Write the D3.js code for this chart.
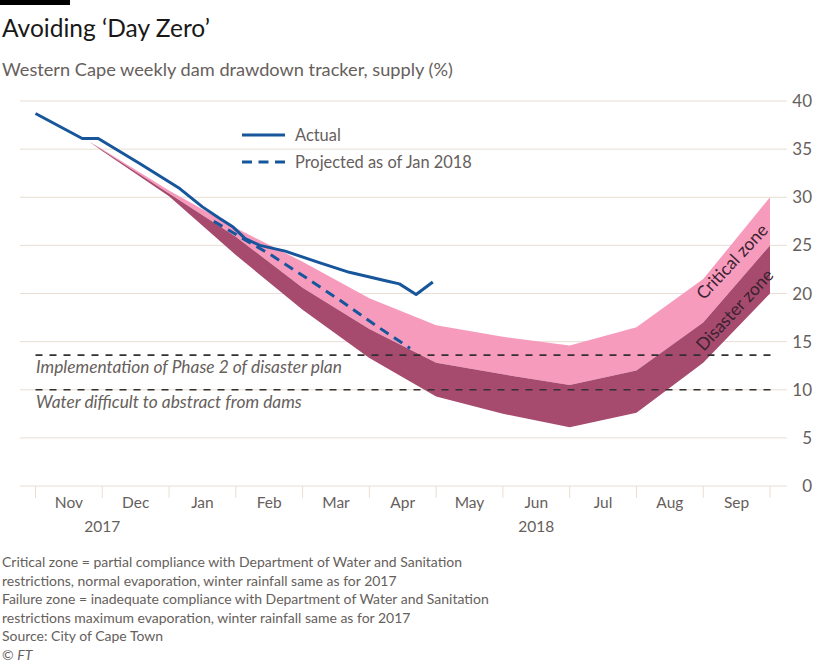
<!DOCTYPE html>
<html>
<head>
<meta charset="utf-8">
<script src="https://cdn.jsdelivr.net/npm/d3@7"></script>
<style>
  html, body { margin: 0; padding: 0; background: #fff; }
  svg { display: block; font-family: Lato, "Noto Sans", sans-serif; }
</style>
</head>
<body>
<svg id="chart" width="820" height="669"></svg>
<script>
// ---------------- data ----------------
const months = ["Nov","Dec","Jan","Feb","Mar","Apr","May","Jun","Jul","Aug","Sep"];
const yearLabels = ["2017","2018"];
const yearAt = [1, 7.5];                 // month-index position of year labels
const yTicks = [0,5,10,15,20,25,30,35,40];

// Actual supply (%), x = month index from 1 Nov 2017
const actualT = [0, 0.7, 0.94, 1.56, 2.16, 2.5, 2.76, 2.96, 3.14, 3.36, 3.74, 4.25, 4.7, 5.26, 5.45, 5.7, 5.95];
const actualV = [38.7, 36.1, 36.1, 33.5, 30.9, 29.0, 27.8, 26.9, 25.7, 25.0, 24.4, 23.2, 22.2, 21.3, 21.0, 19.9, 21.2];

// Projected as of Jan 2018
const projT = [2.67, 3.06, 3.53, 4.06, 4.56, 5.05, 5.61];
const projV = [27.5, 25.9, 24.0, 21.6, 19.3, 16.9, 14.3];

// Zones: critical = between top and mid, disaster = between mid and bottom
const zoneT      = [0.8, 1, 2, 3, 4, 5, 6, 7, 8, 9, 10, 11];
const zoneTop    = [35.8, 35.0, 30.7, 26.8, 23.3, 19.5, 16.7, 15.5, 14.6, 16.5, 21.5, 30];
const zoneMid    = [35.8, 34.9, 30.4, 25.9, 20.6, 16.3, 12.8, 11.6, 10.5, 12.0, 17.0, 25];
const zoneBottom = [35.8, 34.8, 30.1, 24.0, 18.3, 13.3, 9.3, 7.5, 6.1, 7.6, 12.8, 20];

// Reference levels
const refLevels = [13.6, 10];
const refLabels = ["Implementation of Phase 2 of disaster plan", "Water difficult to abstract from dams"];

const title = "Avoiding \u2018Day Zero\u2019";
const subtitle = "Western Cape weekly dam drawdown tracker, supply (%)";
const legendLabels = ["Actual", "Projected as of Jan 2018"];
const zoneLabels = ["Critical zone", "Disaster zone"];
const zoneLabelAt = [[10.43, 23.3], [10.47, 18.3]];
const notes = [
  "Critical zone = partial compliance with Department of Water and Sanitation",
  "restrictions, normal evaporation, winter rainfall same as for 2017",
  "Failure zone = inadequate compliance with Department of Water and Sanitation",
  "restrictions maximum evaporation, winter rainfall same as for 2017",
  "Source: City of Cape Town"
];

// ---------------- styles ----------------
const C = {
  blue: "#17569b", light: "#f79bbd", dark: "#a64a6e",
  grid: "#e8ded5", text: "#66605c", title: "#1a1817", zoneText: "#3a2230", ref: "#33302e"
};

const svg = d3.select("#chart");
const x = d3.scaleLinear().domain([0, 11]).range([35.5, 770]);
const y = d3.scaleLinear().domain([0, 40]).range([486, 101]);

function fit(sel, w) {
  const len = sel.node().getComputedTextLength();
  const fs = parseFloat(sel.attr("font-size"));
  const nfs = fs * w / len;
  sel.attr("font-size", nfs);
  return nfs;
}

svg.append("rect").attr("width", 820).attr("height", 669).attr("fill", "#fff");

// top black bar
svg.append("rect").attr("x", 0).attr("y", 0).attr("width", 70).attr("height", 5).attr("fill", "#000");

// title & subtitle
const tt = svg.append("text").attr("x", 2).attr("y", 37).attr("font-size", 22).attr("fill", C.title).text(title);
fit(tt, 208);
const st = svg.append("text").attr("x", 2).attr("y", 75.5).attr("font-size", 18).attr("fill", C.text).text(subtitle);
fit(st, 451);

// gridlines
svg.append("g").selectAll("line").data(yTicks).join("line")
  .attr("x1", 20).attr("x2", 787)
  .attr("y1", d => y(d)).attr("y2", d => y(d))
  .attr("stroke", C.grid).attr("stroke-width", 1);

// y tick labels (right side)
svg.append("g").selectAll("text").data(yTicks).join("text")
  .attr("x", 812).attr("y", d => y(d) + 6)
  .attr("text-anchor", "end").attr("font-size", 17).attr("fill", C.text)
  .text(d => d);

// x tick marks at month boundaries
svg.append("g").selectAll("line").data(d3.range(months.length + 1)).join("line")
  .attr("x1", d => x(d)).attr("x2", d => x(d))
  .attr("y1", y(0)).attr("y2", y(0) + 12)
  .attr("stroke", C.grid).attr("stroke-width", 1);

// month labels
svg.append("g").selectAll("text").data(months).join("text")
  .attr("x", (d, i) => x(i + 0.5)).attr("y", 508)
  .attr("text-anchor", "middle").attr("font-size", 15.5).attr("fill", C.text)
  .text(d => d);
svg.append("g").selectAll("text").data(yearLabels).join("text")
  .attr("x", (d, i) => x(yearAt[i])).attr("y", 532)
  .attr("text-anchor", "middle").attr("font-size", 15.5).attr("fill", C.text)
  .text(d => d);

// zones
const zone = zoneT.map((t, i) => ({t, top: zoneTop[i], mid: zoneMid[i], bot: zoneBottom[i]}));
svg.append("path").datum(zone)
  .attr("d", d3.area().x(d => x(d.t)).y0(d => y(d.mid)).y1(d => y(d.top)))
  .attr("fill", C.light);
svg.append("path").datum(zone)
  .attr("d", d3.area().x(d => x(d.t)).y0(d => y(d.bot)).y1(d => y(d.mid)))
  .attr("fill", C.dark);

// reference lines
svg.append("g").selectAll("line").data(refLevels).join("line")
  .attr("x1", x(0)).attr("x2", x(11.05))
  .attr("y1", d => y(d)).attr("y2", d => y(d))
  .attr("stroke", C.ref).attr("stroke-width", 1.6).attr("stroke-dasharray", "7,7");
const rl = svg.append("g").selectAll("text").data(refLabels).join("text")
  .attr("x", 36).attr("y", (d, i) => y(refLevels[i]) + 18)
  .attr("font-size", 16).attr("font-style", "italic").attr("fill", C.text)
  .text(d => d);
const rfs = fit(d3.select(rl.nodes()[0]), 306);
d3.select(rl.nodes()[1]).attr("font-size", rfs);

// zone labels
svg.append("g").selectAll("text").data(zoneLabels).join("text")
  .attr("transform", (d, i) => `translate(${x(zoneLabelAt[i][0])},${y(zoneLabelAt[i][1])}) rotate(-47)`)
  .attr("text-anchor", "middle").attr("dy", "0.35em")
  .attr("font-size", 17.5).attr("fill", C.zoneText)
  .text(d => d);

// lines
const line = d3.line().x(d => x(d[0])).y(d => y(d[1]));
svg.append("path").datum(projT.map((t, i) => [t, projV[i]]))
  .attr("d", line).attr("fill", "none").attr("stroke", C.blue)
  .attr("stroke-width", 3).attr("stroke-dasharray", "10,6.5");
svg.append("path").datum(actualT.map((t, i) => [t, actualV[i]]))
  .attr("d", line).attr("fill", "none").attr("stroke", C.blue)
  .attr("stroke-width", 3).attr("stroke-linejoin", "round");

// legend
const lg = svg.append("g");
lg.append("line").attr("x1", 242).attr("x2", 285).attr("y1", 135).attr("y2", 135)
  .attr("stroke", C.blue).attr("stroke-width", 3);
lg.append("line").attr("x1", 242).attr("x2", 285).attr("y1", 162).attr("y2", 162)
  .attr("stroke", C.blue).attr("stroke-width", 3).attr("stroke-dasharray", "10,6.5");
const lt = lg.selectAll("text").data(legendLabels).join("text")
  .attr("x", 295).attr("y", (d, i) => 140.5 + i * 27)
  .attr("font-size", 15.5).attr("fill", C.text).text(d => d);
const lfs = fit(d3.select(lt.nodes()[1]), 177);
d3.select(lt.nodes()[0]).attr("font-size", lfs);

// notes
const nt = svg.append("g").selectAll("text").data(notes).join("text")
  .attr("x", 2).attr("y", (d, i) => 567 + i * 18.6)
  .attr("font-size", 14).attr("fill", C.text).text(d => d);
const nfs = fit(d3.select(nt.nodes()[2]), 487);
nt.attr("font-size", nfs);
const ft = svg.append("text").attr("x", 2).attr("y", 567 + 5 * 18.6)
  .attr("font-size", nfs).attr("fill", C.text);
ft.append("tspan").text("\u00A9 ");
ft.append("tspan").attr("font-style", "italic").text("FT");
</script>
</body>
</html>
